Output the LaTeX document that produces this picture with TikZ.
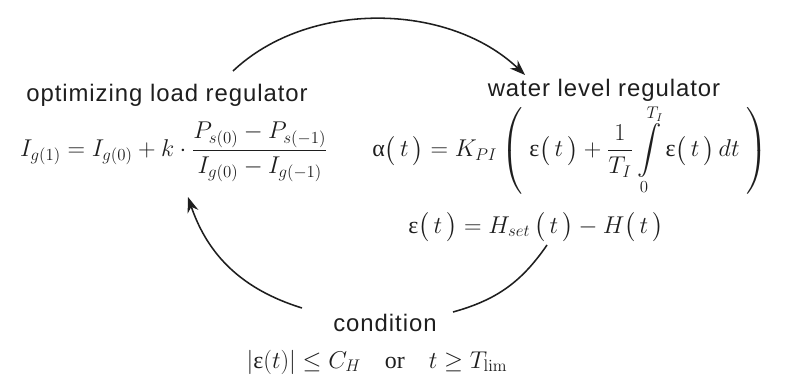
\documentclass[tikz,border=0pt]{standalone}
\usepackage{amsmath}
\usepackage[no-math]{fontspec}
\setmainfont{Liberation Serif}
\newfontfamily\lblfont{Liberation Sans}[LetterSpace=4]
\usepackage{xcolor}
\definecolor{inkgray}{RGB}{30,30,30}
\usetikzlibrary{arrows.meta}
\newcommand{\targ}{\bigl(\mkern3mu t\mkern3mu\bigr)}
\newcommand{\ualpha}{\text{α}}
\newcommand{\ueps}{\text{ε}}

\begin{document}
\begin{tikzpicture}[
  lbl/.style={font=\lblfont\fontsize{17}{20}\selectfont, text=inkgray, inner sep=0pt},
  eqn/.style={font=\fontsize{17}{21}\selectfont, text=inkgray, inner sep=0pt},
  cyc/.style={line width=1.1pt, draw=inkgray},
  cycarrow/.style={cyc, -{Stealth[length=11pt,width=8pt]}}]
  \useasboundingbox (0,0) rectangle (20.075,9.4);

  % --- Optimizing load regulator ---
  \node[lbl] (loadlbl) at (4.175,7.025) {optimizing load regulator};
  \node[eqn] (loadeq) at (4.35,5.6)
       {$\displaystyle I_{g(1)} = I_{g(0)} + k\cdot\frac{P_{s(0)} - P_{s(-1)}}{I_{g(0)} - I_{g(-1)}}$};

  % --- Water level regulator ---
  \node[lbl] (waterlbl) at (15.1,7.15) {water level regulator};
  \node[eqn] (watereq) at (14.25,5.65)
       {$\displaystyle \ualpha\targ = K_{PI}\left(\;\ueps\targ + \frac{1}{T_I}\int\limits_0^{T_I}\ueps\targ\,dt\;\right)$};
  \node[eqn] (erroreq) at (13.4,3.725)
       {$\displaystyle \ueps\targ = H_{set}\,\targ - H\targ$};

  % --- Condition ---
  \node[lbl] (condlbl) at (9.625,1.325) {condition};
  \node[eqn] (condeq) at (9.425,0.35)
       {$\displaystyle |\ueps(t)| \le C_H \quad \text{or} \quad t \ge T_{\mathrm{lim}}$};

  % Cycle arcs
  \coordinate (topstart) at (5.825,7.625);
  \coordinate (topend) at (13.125,7.525);
  \coordinate (rightstart) at (13.675,3.275);
  \coordinate (rightend) at (11.325,1.6);
  \coordinate (leftstart) at (7.55,1.7);
  \coordinate (leftend) at (4.7,4.475);

  \draw[cycarrow] (topstart) .. controls (7.7,9.4) and (11.2,9.35) .. (topend);
  \draw[cyc] (rightstart) to[bend left=20] (rightend);
  \draw[cycarrow] (leftstart) to[bend left=27] (leftend);
\end{tikzpicture}
\end{document}
